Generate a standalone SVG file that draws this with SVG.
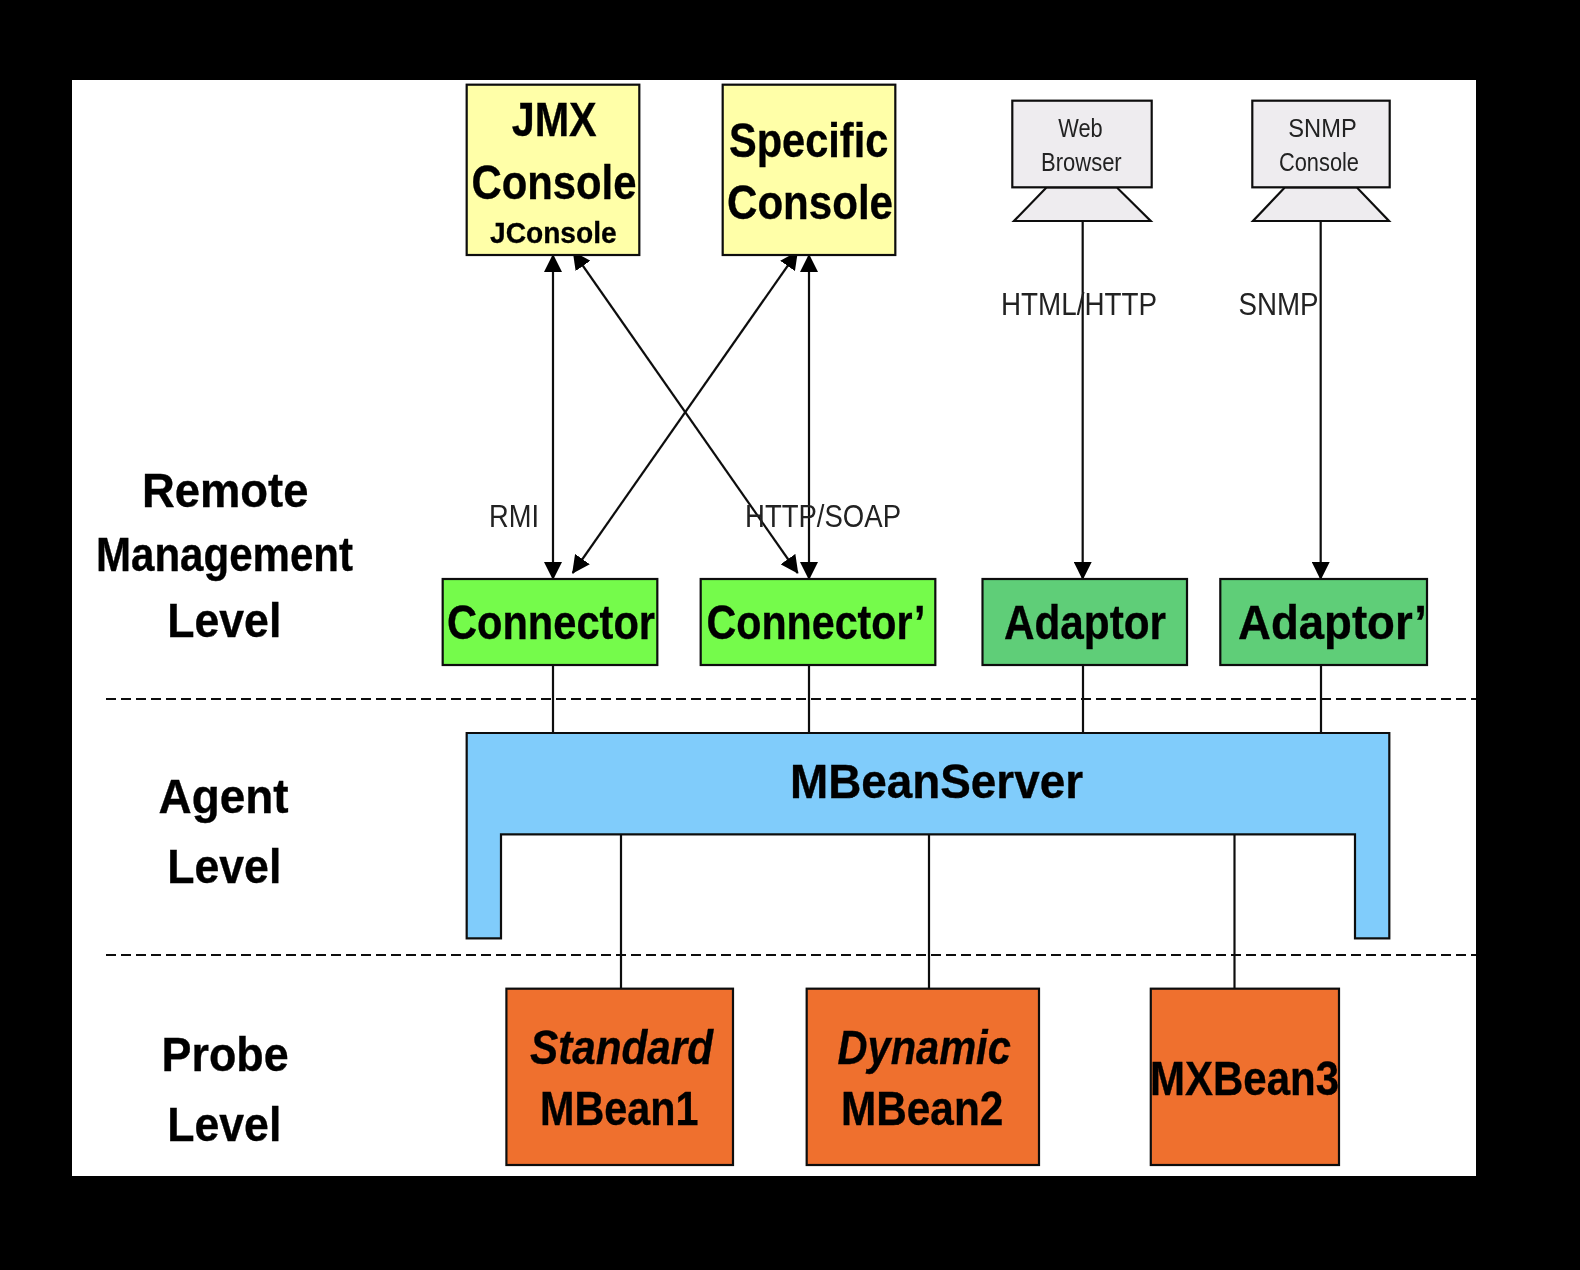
<svg xmlns="http://www.w3.org/2000/svg" width="1580" height="1270" viewBox="0 0 1580 1270">
<style>
text{font-family:"Liberation Sans",Arial,sans-serif;fill:#000;stroke:#000;stroke-width:.35;font-weight:bold;font-size:48px}
.thin{font-weight:normal;font-size:31px;fill:#222;stroke:none}
.small{font-weight:normal;font-size:26px;fill:#222;stroke:none}
.js{font-size:30px;stroke-width:.3}
.box{stroke:#111;stroke-width:2.2}
.yellow{fill:#FFFFA8}.grey{fill:#EEECEF}.green{fill:#74FB4C}.dgreen{fill:#5ECE78}.blue{fill:#80CCFB}.orange{fill:#EF6F2D}
.ln{fill:none;stroke:#111;stroke-width:2.2}
.dash{fill:none;stroke:#111;stroke-width:2.2;stroke-dasharray:10 5}
</style>
<defs>
<marker id="a" viewBox="0 0 18 18" refX="17" refY="9" markerWidth="18" markerHeight="18" markerUnits="userSpaceOnUse" orient="auto-start-reverse"><path d="M0 0L18 9L0 18Z" fill="#000"/></marker>
<filter id="soft" x="-2%" y="-2%" width="104%" height="104%"><feGaussianBlur stdDeviation="0.6"/></filter>
</defs>
<rect width="1580" height="1270" fill="#000"/>
<rect x="72" y="80" width="1404" height="1096" fill="#fff"/>
<g filter="url(#soft)">
<g id="connectors">
<path class="dash" d="M106 699H1476"/>
<path class="dash" d="M106 955H1476"/>
<path class="ln" d="M553 255V579" marker-start="url(#a)" marker-end="url(#a)"/>
<path class="ln" d="M809 255V579" marker-start="url(#a)" marker-end="url(#a)"/>
<path class="ln" d="M573.3 252L797.7 573" marker-start="url(#a)" marker-end="url(#a)"/>
<path class="ln" d="M797.3 252L572.7 573" marker-start="url(#a)" marker-end="url(#a)"/>
<path class="ln" d="M1082.7 221V579" marker-end="url(#a)"/>
<path class="ln" d="M1320.7 221V579" marker-end="url(#a)"/>
<path class="ln" d="M553 665V733M809 665V733M1083 665V733M1321 665V733"/>
<path class="ln" d="M621 834V989M929 834V989M1234.5 834V989"/>
</g>
<g id="label-rmi"><text class="thin" x="489" y="527" textLength="50" lengthAdjust="spacingAndGlyphs">RMI</text></g>
<g id="label-http-soap"><text class="thin" x="745" y="527" textLength="156" lengthAdjust="spacingAndGlyphs">HTTP/SOAP</text></g>
<g id="label-html-http"><text class="thin" x="1001" y="315" textLength="156" lengthAdjust="spacingAndGlyphs">HTML/HTTP</text></g>
<g id="label-snmp"><text class="thin" x="1238.5" y="315" textLength="80" lengthAdjust="spacingAndGlyphs">SNMP</text></g>
<g id="jmx-console">
<rect class="box yellow" x="466.7" y="84.7" width="172.6" height="170.3"/>
<text x="511.7" y="136" textLength="85" lengthAdjust="spacingAndGlyphs">JMX</text>
<text x="471.5" y="199" textLength="165" lengthAdjust="spacingAndGlyphs">Console</text>
<text class="js" x="490" y="243" textLength="126.7" lengthAdjust="spacingAndGlyphs">JConsole</text>
</g>
<g id="specific-console">
<rect class="box yellow" x="722.7" y="84.7" width="172.6" height="170.3"/>
<text x="729" y="157" textLength="159.3" lengthAdjust="spacingAndGlyphs">Specific</text>
<text x="727" y="219" textLength="166" lengthAdjust="spacingAndGlyphs">Console</text>
</g>
<g id="web-browser">
<path class="box grey" d="M1046.7 187.3L1014 221H1150.7L1116.7 187.3Z"/>
<rect class="box grey" x="1012.3" y="100.7" width="139.4" height="86.6"/>
<text class="small" x="1058.3" y="137" textLength="44.4" lengthAdjust="spacingAndGlyphs">Web</text>
<text class="small" x="1041" y="171" textLength="80.7" lengthAdjust="spacingAndGlyphs">Browser</text>
</g>
<g id="snmp-console">
<path class="box grey" d="M1285 187.3L1253 221H1389L1356.7 187.3Z"/>
<rect class="box grey" x="1252.3" y="100.7" width="137.4" height="86.6"/>
<text class="small" x="1288.3" y="137" textLength="68.4" lengthAdjust="spacingAndGlyphs">SNMP</text>
<text class="small" x="1279" y="171" textLength="80" lengthAdjust="spacingAndGlyphs">Console</text>
</g>
<g id="connector">
<rect class="box green" x="442.7" y="579" width="214.6" height="86"/>
<text x="447" y="639" textLength="208" lengthAdjust="spacingAndGlyphs">Connector</text>
</g>
<g id="connector-prime">
<rect class="box green" x="700.7" y="579" width="234.6" height="86"/>
<text x="706.5" y="639" textLength="219" lengthAdjust="spacingAndGlyphs">Connector’</text>
</g>
<g id="adaptor">
<rect class="box dgreen" x="982.5" y="579" width="204.5" height="86"/>
<text x="1004" y="639" textLength="162" lengthAdjust="spacingAndGlyphs">Adaptor</text>
</g>
<g id="adaptor-prime">
<rect class="box dgreen" x="1220.3" y="579" width="206.7" height="86"/>
<text x="1238" y="639" textLength="189" lengthAdjust="spacingAndGlyphs">Adaptor’</text>
</g>
<g id="mbeanserver">
<path class="box blue" d="M466.7 733H1389.3V938.3H1355V834.3H501V938.3H466.7Z"/>
<text x="790" y="798" textLength="293" lengthAdjust="spacingAndGlyphs">MBeanServer</text>
</g>
<g id="standard-mbean">
<rect class="box orange" x="506.4" y="988.7" width="226.6" height="176.3"/>
<text x="530" y="1064" font-style="italic" textLength="183" lengthAdjust="spacingAndGlyphs">Standard</text>
<text x="540" y="1125" textLength="158.4" lengthAdjust="spacingAndGlyphs">MBean1</text>
</g>
<g id="dynamic-mbean">
<rect class="box orange" x="806.7" y="988.7" width="232.3" height="176.3"/>
<text x="837.5" y="1064" font-style="italic" textLength="173.3" lengthAdjust="spacingAndGlyphs">Dynamic</text>
<text x="841" y="1125" textLength="162.3" lengthAdjust="spacingAndGlyphs">MBean2</text>
</g>
<g id="mxbean">
<rect class="box orange" x="1150.8" y="988.7" width="188.2" height="176.3"/>
<text x="1150" y="1094.5" textLength="189" lengthAdjust="spacingAndGlyphs">MXBean3</text>
</g>
<g id="remote-level">
<text x="142" y="507" textLength="166.4" lengthAdjust="spacingAndGlyphs">Remote</text>
<text x="96" y="571" textLength="257" lengthAdjust="spacingAndGlyphs">Management</text>
<text x="167.3" y="637" textLength="114" lengthAdjust="spacingAndGlyphs">Level</text>
</g>
<g id="agent-level">
<text x="158.5" y="813" textLength="130" lengthAdjust="spacingAndGlyphs">Agent</text>
<text x="167.3" y="883" textLength="114" lengthAdjust="spacingAndGlyphs">Level</text>
</g>
<g id="probe-level">
<text x="161.6" y="1071" textLength="127" lengthAdjust="spacingAndGlyphs">Probe</text>
<text x="167.3" y="1141" textLength="114" lengthAdjust="spacingAndGlyphs">Level</text>
</g>
</g>
</svg>
